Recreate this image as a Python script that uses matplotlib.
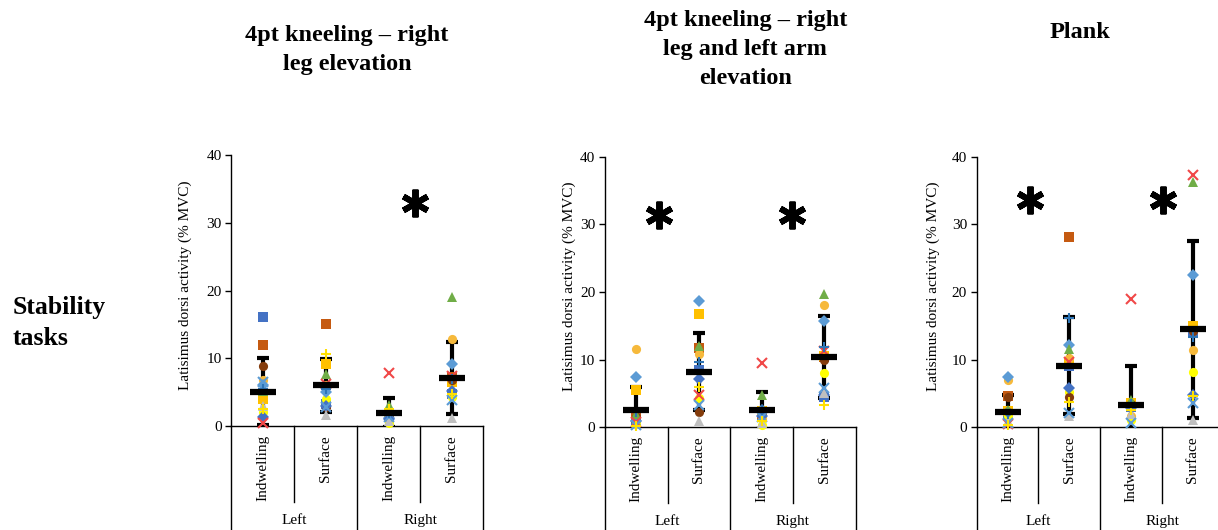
import numpy as np
import matplotlib.pyplot as plt
from matplotlib.markers import MarkerStyle
from matplotlib.transforms import blended_transform_factory

plt.rcParams['font.family'] = ['Liberation Serif', 'DejaVu Serif']

titles = ['4pt kneeling – right\nleg elevation',
          '4pt kneeling – right\nleg and left arm\nelevation',
          'Plank']
methods = ['Indwelling', 'Surface', 'Indwelling', 'Surface']
sides = ['Left', 'Right']
row_label = 'Stability\ntasks'
ylabel = 'Latisimus dorsi activity (% MVC)'

# individual participants, 12 values each:
# leg elevation (L indw, L surf, R indw, R surf), leg+arm (...), plank (...)
blue_square   = [16.1, 3.3, 1.4, 4.8,   1.0, 8.5, 1.6, 4.5,    2.0, 9.0, 3.0, 14.0]
brown_square  = [12.0, 15.0, 1.8, 7.3,  1.3, 11.7, 2.0, 10.4,  4.6, 28.2, 3.3, 14.8]
gold_square   = [4.0, 9.1, 1.5, 6.5,    5.5, 16.8, 2.4, 10.6,  2.4, 9.5, 3.6, 15.0]
gold_circle   = [6.8, 6.0, 1.9, 12.8,   11.6, 10.9, 1.3, 18.1, 7.0, 10.2, 1.6, 11.4]
yellow_circle = [2.1, 4.0, 0.4, 4.3,    0.8, 4.3, 0.3, 8.0,    1.6, 5.2, 1.1, 8.2]
brown_circle  = [8.9, 2.8, 1.6, 6.8,    1.5, 2.2, 2.2, 10.0,   4.5, 4.5, 3.4, 14.2]
lblue_diamond = [6.0, 5.0, 1.2, 9.2,    7.4, 18.7, 2.6, 15.7,  7.4, 12.1, 3.1, 22.5]
blue_diamond  = [1.3, 3.0, 1.0, 5.2,    1.0, 7.1, 1.6, 4.8,    2.2, 5.8, 2.8, 4.8]
green_tri     = [5.2, 7.7, 3.1, 19.1,   2.0, 12.0, 4.8, 19.7,  2.5, 11.5, 4.0, 36.3]
grey_tri      = [3.0, 1.7, 0.8, 1.2,    0.5, 0.9, 0.6, 5.0,    0.9, 1.6, 2.0, 1.1]
red_x         = [0.4, 6.2, 7.8, 7.4,    0.8, 4.8, 9.5, 11.3,   0.5, 9.7, 18.9, 37.3]
lblue_x       = [6.5, 2.8, 1.3, 3.8,    0.3, 3.3, 1.5, 5.8,    0.6, 2.1, 0.6, 3.6]
blue_plus     = [5.5, 5.5, 2.0, 7.0,    2.3, 9.7, 2.5, 11.9,   2.0, 16.1, 3.5, 13.4]
yellow_plus   = [2.5, 10.7, 2.5, 4.8,   0.2, 6.0, 1.0, 3.3,    0.3, 3.8, 2.6, 4.6]

# group mean and SD
means = [[5.1, 6.0, 2.0, 7.1],
         [2.5, 8.2, 2.5, 10.4],
         [2.2, 9.1, 3.3, 14.5]]
sds = [[4.9, 3.9, 2.1, 5.3],
       [3.5, 5.7, 2.7, 6.0],
       [2.5, 7.2, 5.7, 13.1]]

# significance markers (category position, height)
sig_marks = [[(2.41, 33.0)],
             [(0.36, 31.4), (2.49, 31.4)],
             [(0.36, 33.6), (2.51, 33.6)]]

participants = [
    (blue_square,   's', '#4472C4'),
    (brown_square,  's', '#C55A11'),
    (gold_square,   's', '#FFC000'),
    (gold_circle,   'o', '#F6B93B'),
    (yellow_circle, 'o', '#FFFF00'),
    (brown_circle,  'o', '#843C0C'),
    (lblue_diamond, 'D', '#5B9BD5'),
    (blue_diamond,  'D', '#4472C4'),
    (green_tri,     '^', '#70AD47'),
    (grey_tri,      '^', '#BFBFBF'),
    (red_x,         'x', '#F04848'),
    (lblue_x,       'x', '#5B9BD5'),
    (blue_plus,     '+', '#2E75B6'),
    (yellow_plus,   '+', '#FFE000'),
]

fig = plt.figure(figsize=(12.18, 5.30), dpi=100)

# axes boxes in figure fraction
boxes = [[0.1900, 0.1960, 0.2069, 0.5113],
         [0.4967, 0.1938, 0.2057, 0.5105],
         [0.8019, 0.1938, 0.2028, 0.5105]]
label_x = [-0.157, -0.116, -0.15]

star = MarkerStyle((6, 2, 0), capstyle='round')
x = np.arange(4)

for k in range(3):
    ax = fig.add_axes(boxes[k])
    ax.set_xlim(-0.5, 3.5)
    ax.set_ylim(0, 40)
    ax.spines['top'].set_visible(False)
    ax.spines['right'].set_visible(False)
    for s in ['left', 'bottom']:
        ax.spines[s].set_linewidth(1.0)
    ax.set_yticks([0, 10, 20, 30, 40])
    ax.tick_params(axis='y', labelsize=11, length=4, width=1.0, pad=3)
    ax.set_xticks([])
    ax.set_ylabel(ylabel, fontsize=11)
    ax.yaxis.set_label_coords(label_x[k], 0.52)

    # error bars and points
    ax.errorbar(x, means[k], yerr=sds[k], fmt='none', ecolor='black',
                elinewidth=3, capsize=4.5, capthick=3, zorder=2)
    for vals, mk, col in participants:
        v = vals[4 * k:4 * k + 4]
        if mk in ('x', '+'):
            ax.plot(x, v, ls='none', marker=mk, ms=6.5, mew=1.5, color=col,
                    zorder=3, clip_on=False)
        else:
            ms = 5.8 if mk == 'D' else 6.6
            ax.plot(x, v, ls='none', marker=mk, ms=ms, mew=0, color=col,
                    zorder=3, clip_on=False)
    ax.plot(x, means[k], ls='none', marker='_', ms=19, mew=4.5,
            color='black', zorder=4)

    for sx, sy in sig_marks[k]:
        ax.plot([sx], [sy], ls='none', marker=star, ms=20, mew=4.3,
                color='black', zorder=5)

    # two-level category axis below the plot
    tr = blended_transform_factory(ax.transData, ax.transAxes)
    for i, lab in enumerate(methods):
        ax.text(i, -0.033, lab, rotation=90, ha='center', va='top',
                fontsize=11, transform=tr)
    for xb in [0.5, 2.5]:
        ax.plot([xb, xb], [0, -0.28], color='black', lw=1.0,
                transform=tr, clip_on=False)
    for xb in [-0.5, 1.5, 3.5]:
        ax.plot([xb, xb], [0, -0.45], color='black', lw=1.0,
                transform=tr, clip_on=False)
    for j, lab in enumerate(sides):
        ax.text(0.5 + 2 * j, -0.347, lab, ha='center', va='center',
                fontsize=11, transform=tr)

fig.text(0.285, 0.905, titles[0], ha='center', va='center', fontsize=17.5,
         fontweight='bold', linespacing=1.5)
fig.text(0.612, 0.907, titles[1], ha='center', va='center', fontsize=17.5,
         fontweight='bold', linespacing=1.5)
fig.text(0.887, 0.938, titles[2], ha='center', va='center', fontsize=17.5,
         fontweight='bold', linespacing=1.5)
fig.text(0.0107, 0.39, row_label, ha='left', va='center', fontsize=18.5,
         fontweight='bold', linespacing=1.45)

fig.savefig('out.png', dpi=100)
